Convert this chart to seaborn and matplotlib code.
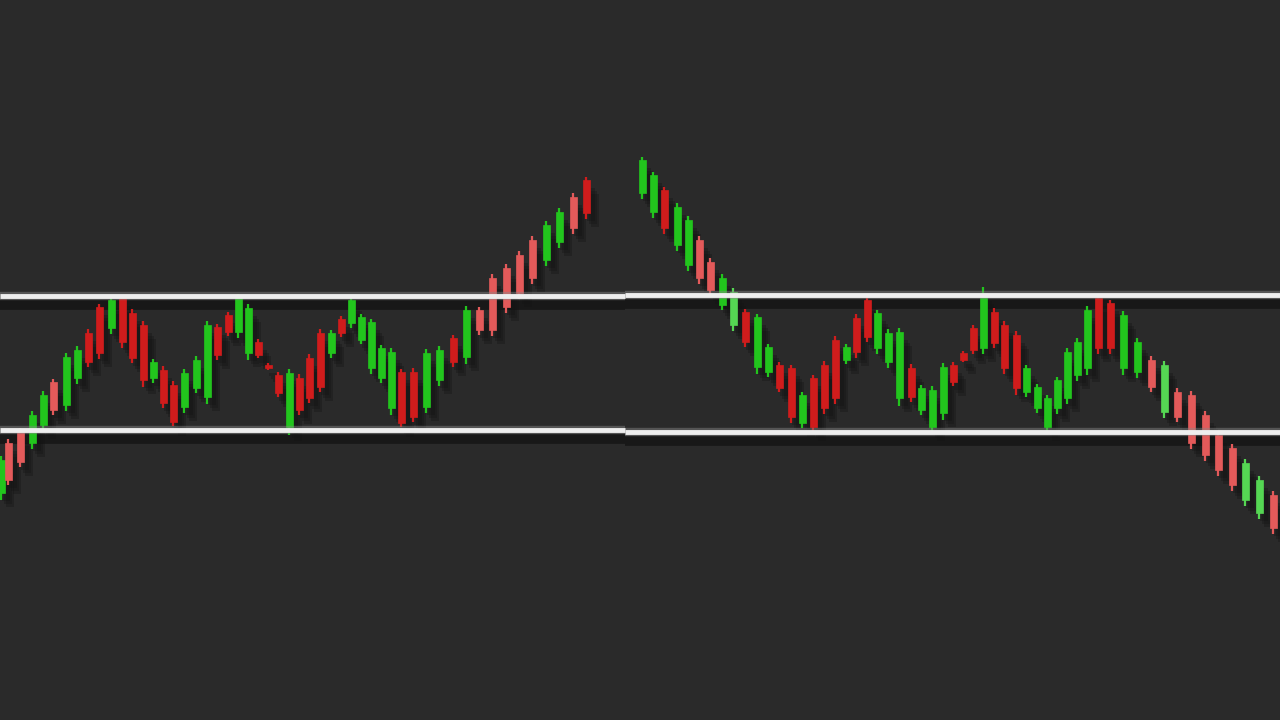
import numpy as np
import pandas as pd
import matplotlib
matplotlib.use("Agg")
import matplotlib.pyplot as plt
import matplotlib.transforms as mtransforms
import seaborn as sns

# Left panel: range then upside breakout
left_time = [1, 8, 20, 32, 43, 53, 66, 77, 88, 99, 111, 122, 132, 143, 153, 163, 173, 184,
             196, 207, 217, 228, 238, 248, 258, 268, 278, 289, 299, 309, 320, 331, 341, 351,
             361, 371, 381, 391, 401, 413, 426, 439, 453, 466, 479, 492, 506, 519, 532, 546,
             559, 573, 586]
left_open = [227, 277, 288, 277, 295, 338, 315, 342, 387, 413, 392, 422, 407, 395, 342, 350,
             335, 313, 332, 323, 393, 405, 388, 367, 378, 355, 345, 293, 342, 362, 387, 367,
             401, 397, 380, 352, 342, 312, 348, 348, 313, 340, 382, 363, 410, 442, 452, 465,
             480, 460, 478, 523, 540]
left_high = [264, 281, 292, 309, 329, 341, 367, 374, 391, 416, 424, 424, 411, 399, 361, 354,
             339, 351, 364, 399, 396, 408, 426, 416, 381, 357, 348, 351, 346, 366, 391, 390,
             404, 424, 406, 401, 375, 372, 351, 352, 371, 374, 385, 414, 413, 446, 456, 469,
             484, 499, 512, 527, 543]
left_low = [220, 235, 253, 271, 290, 305, 309, 336, 353, 361, 386, 372, 357, 333, 337, 312,
            294, 307, 327, 316, 360, 384, 382, 360, 362, 350, 323, 285, 305, 317, 328, 362,
            383, 392, 376, 346, 337, 305, 293, 298, 307, 334, 353, 356, 385, 384, 407, 421,
            436, 454, 472, 486, 501]
left_close = [260, 240, 258, 305, 325, 310, 363, 370, 358, 367, 420, 378, 362, 340, 358, 317,
              298, 347, 360, 395, 365, 388, 423, 412, 365, 352, 327, 347, 310, 322, 333, 387,
              387, 420, 403, 398, 372, 368, 297, 303, 367, 370, 358, 410, 390, 390, 413, 427,
              442, 495, 508, 492, 507]
left_faded = [2, 3, 6, 45, 46, 47, 48, 49, 52]

# Right panel: drop into range then downside breakout
right_time = [642, 653, 664, 677, 688, 699, 710, 722, 733, 745, 757, 768, 779, 791, 802, 813,
              824, 835, 846, 856, 867, 877, 888, 899, 911, 921, 932, 943, 953, 963, 973, 983,
              994, 1004, 1016, 1026, 1037, 1047, 1057, 1067, 1077, 1087, 1098, 1110, 1123,
              1137, 1151, 1164, 1177, 1191, 1205, 1218, 1232, 1245, 1259, 1273]
right_open = [527, 508, 530, 475, 455, 480, 458, 415, 395, 408, 353, 348, 355, 352, 297, 342,
              355, 380, 360, 402, 420, 372, 358, 322, 352, 310, 293, 307, 355, 367, 392, 372,
              408, 395, 385, 328, 312, 293, 312, 322, 345, 352, 422, 417, 352, 348, 360, 308,
              328, 325, 305, 285, 272, 220, 207, 225]
right_high = [563, 548, 533, 517, 504, 484, 462, 446, 432, 411, 406, 376, 358, 355, 328, 345,
              359, 384, 376, 406, 424, 410, 391, 392, 356, 335, 334, 357, 358, 369, 395, 433,
              412, 399, 389, 355, 336, 325, 343, 372, 382, 414, 424, 420, 409, 382, 364, 359,
              332, 329, 309, 289, 276, 261, 244, 229]
right_low = [521, 502, 486, 469, 449, 436, 424, 410, 389, 373, 346, 343, 328, 297, 292, 286,
             306, 316, 356, 362, 378, 366, 352, 314, 318, 305, 287, 300, 334, 358, 366, 366,
             372, 346, 325, 323, 307, 288, 306, 316, 339, 345, 366, 366, 345, 342, 328, 302,
             298, 271, 259, 244, 229, 214, 201, 186]
right_close = [560, 545, 492, 513, 500, 442, 430, 442, 428, 378, 403, 373, 332, 303, 325, 293,
               312, 322, 373, 368, 383, 407, 387, 388, 323, 332, 330, 353, 338, 360, 370, 427,
               377, 352, 332, 352, 333, 322, 340, 368, 378, 410, 372, 372, 405, 378, 333, 355,
               303, 277, 265, 250, 235, 257, 240, 192]
right_faded = [6, 7, 9, 47, 48, 49, 50, 51, 52, 53, 54, 55, 56]

# Range levels per panel: (start, end, resistance, support)
left_levels = [0, 625, 424, 290]
right_levels = [625, 1280, 425, 288]

BG = "#2a2a2a"
GREEN, GREEN_FADED = "#22c51d", "#55d653"
RED, RED_FADED = "#d01c1c", "#e35a5a"

sns.set_theme(style="dark", rc={"axes.facecolor": BG, "figure.facecolor": BG})
plt.rcParams["font.family"] = ["DejaVu Sans"]


def make_frame(time, o, h, l, c, faded):
    df = pd.DataFrame({"time": time, "open": o, "high": h, "low": l, "close": c})
    df["up"] = df["close"] > df["open"]
    df["faded"] = (df.index + 1).isin(faded)
    return df


panels = [
    (make_frame(left_time, left_open, left_high, left_low, left_close, left_faded), left_levels),
    (make_frame(right_time, right_open, right_high, right_low, right_close, right_faded), right_levels),
]

fig = plt.figure(figsize=(12.8, 7.2), dpi=100)
ax = fig.add_axes([0, 0, 1, 1])
ax.set_xlim(0, 1280)
ax.set_ylim(0, 720)
ax.axis("off")

# soft drop shadow: a few stacked offsets
shadows = [mtransforms.offset_copy(ax.transData, fig=fig, x=dx, y=dy, units="dots")
           for dx, dy in [(5, -8), (7, -11), (9, -14)]]
line_shadow = mtransforms.offset_copy(ax.transData, fig=fig, x=0, y=-9, units="dots")

for df, (x0, x1, res, sup) in panels:
    # level lines with dark shadow underneath
    for lvl in (res, sup):
        ax.hlines(lvl, x0, x1, color="#161616", lw=7, alpha=0.9, transform=line_shadow, zorder=1)
        ax.hlines(lvl, x0, x1, color="#8a8a8a", lw=6, alpha=0.45, zorder=4)
        ax.hlines(lvl, x0, x1, color="#eeeeee", lw=3.5, zorder=5)

    body_lo = df[["open", "close"]].min(axis=1)
    body_hi = df[["open", "close"]].max(axis=1)
    colors = np.where(df["up"], np.where(df["faded"], GREEN_FADED, GREEN),
                      np.where(df["faded"], RED_FADED, RED))

    for tr in shadows:
        ax.bar(df["time"], body_hi - body_lo, bottom=body_lo, width=8, color="#141414",
               alpha=0.35, linewidth=0, edgecolor="none", transform=tr, zorder=2)

    # candles
    ax.vlines(df["time"], df["low"], df["high"], color=colors, lw=1.6, zorder=3)
    ax.bar(df["time"], body_hi - body_lo, bottom=body_lo, width=7, color=colors,
           edgecolor=colors, linewidth=0.5, zorder=3)

fig.savefig("out.png", dpi=100, facecolor=BG)
